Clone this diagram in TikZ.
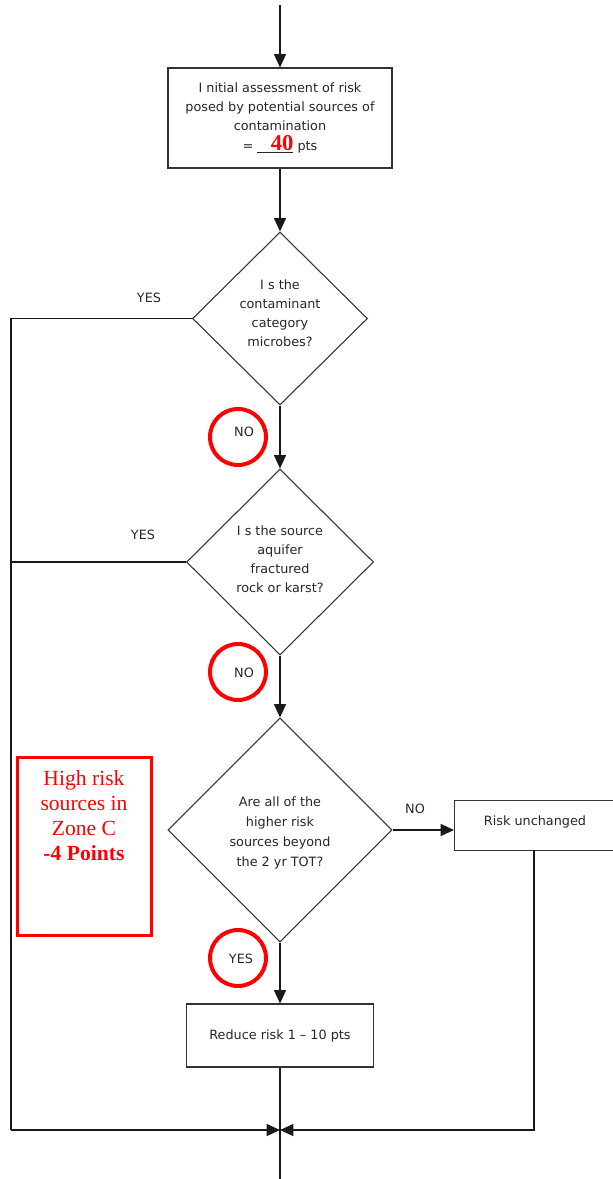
\documentclass[tikz,border=0pt]{standalone}
\usepackage{fontspec}
\setmainfont{Liberation Serif}
\newfontfamily\flowfont{DejaVu Sans}
\usetikzlibrary{shapes.geometric,arrows.meta}
\definecolor{flowred}{RGB}{255,0,0}
\begin{document}
\begin{tikzpicture}[x=0.75pt,y=-0.75pt,
  every node/.style={font=\flowfont\fontsize{9.6}{14.3}\selectfont, text=black!85},
  stepbox/.style={draw=black!80, line width=0.8pt, inner sep=0, align=center},
  decision/.style={draw=black!80, line width=0.8pt, diamond, inner sep=0},
  qtext/.style={align=center},
  flow/.style={line width=0.8pt, draw=black!90},
  arr/.style={flow, -{Triangle[length=10pt,width=9pt]}},
  ring/.style={draw=flowred, line width=3pt, circle, minimum size=56*0.75pt, inner sep=0},
  lbl/.style={inner sep=1pt}]
\useasboundingbox (0,0) rectangle (612,1179);

% entry point
\coordinate (start) at (280,5);
% process boxes
\node[stepbox, minimum width=168pt, minimum height=75pt] (init) at (280,118)
  {I nitial assessment of risk\\posed by potential sources of\\contamination\\
   = \underline{\makebox[27pt][r]{\fontspec{Liberation Serif}\fontsize{17}{15}\bfseries\color{flowred}40}} pts};
% decisions
\node[decision, minimum width=131.25pt, minimum height=129.75pt] (q1) at (280,318.5) {};
\node[qtext] at ([yshift=4pt]q1.center) {I s the\\contaminant\\category\\microbes?};
\node[decision, minimum width=140.25pt, minimum height=139.5pt] (q2) at (280,562) {};
\node[qtext] at ([yshift=2pt]q2.center) {I s the source\\aquifer\\fractured\\rock or karst?};
\node[decision, minimum width=168pt, minimum height=168pt] (q3) at (280,830) {};
\node[qtext, font=\flowfont\fontsize{9.6}{15}\selectfont] at ([yshift=-2.5pt]q3.center) {Are all of the\\higher risk\\sources beyond\\the 2 yr TOT?};
% outcomes
\node[stepbox, minimum width=123pt, minimum height=37.5pt, anchor=north west] (same) at (454,800) {};
\node at (535,822) {Risk unchanged};
\node[stepbox, minimum width=140.25pt, minimum height=47.25pt] (cut) at (280,1035.5) {Reduce risk 1 – 10 pts};

% routing points
\coordinate (join) at (280,1130);
\coordinate (end) at (280,1179);
\coordinate (lefttop) at (11,318.5);
\coordinate (leftbot) at (11,1130);
\coordinate (rightdrop) at (534,850);
\coordinate (rightbot) at (534,1130);

% main spine
\draw[arr] (start) -- (init.north);
\draw[arr] (init.south) -- (q1.north);
\draw[arr] (q1.south) -- (q2.north);
\draw[arr] (q2.south) -- (q3.north);
\draw[arr] (q3.south) -- (cut.north);
\draw[flow] (cut.south) -- (end);
\draw[arr] (q3.east) -- (same.west|-q3.east);

% bypass lines
\draw[flow] (q1.west) -- (lefttop) -- (leftbot);
\draw[flow] (q2.west) -- (q2.west -| lefttop);
\draw[arr] (leftbot) -- (join);
\draw[arr] (rightdrop) -- (rightbot) -- (join);

% branch labels
\node[lbl] (y1) at (149,298) {YES};
\node[lbl] (y2) at (143,535) {YES};
\node[lbl] (n3) at (415,809) {NO};
\node[lbl] (n1) at (244,432) {NO};
\node[lbl] (n2) at (244,673) {NO};
\node[lbl] (y3) at (241,959) {YES};

% highlight rings
\node[ring] (r1) at (238,437) {};
\node[ring] (r2) at (238,672) {};
\node[ring] (r3) at (238,958) {};

% note box
\node[draw=flowred, line width=2.4pt, minimum width=100.5pt, minimum height=133.5pt, inner sep=0, anchor=north west] (note) at (16,756) {};
\node[anchor=north, align=center, text=flowred, font=\fontsize{16.2}{18.75}\selectfont] (notetext) at (84,766)
  {High risk\\sources in\\Zone C\\\textbf{-4 Points}};
\end{tikzpicture}
\end{document}
